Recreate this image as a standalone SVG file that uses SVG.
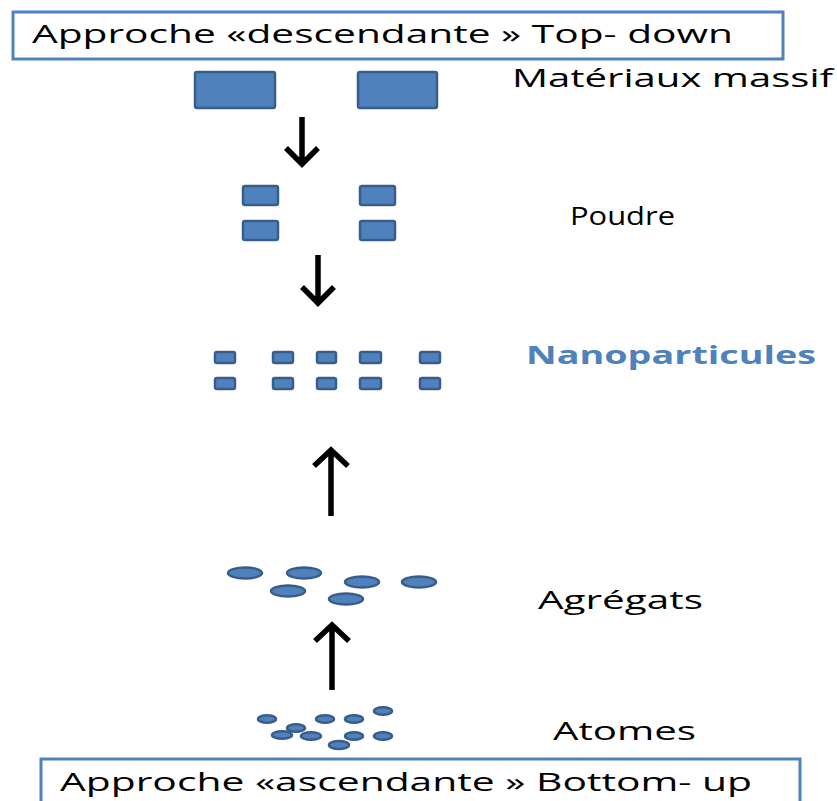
<svg xmlns="http://www.w3.org/2000/svg" width="837" height="801" viewBox="0 0 837 801">
<style>
.box{fill:#fff;stroke:#4f81bd;stroke-width:3}
.blk{fill:#4f81bd;stroke:#385d8a;stroke-width:2.5}
.t{font-family:"Open Sans","Liberation Sans",Arial,sans-serif;font-size:25px;fill:#000}
.bt{font-family:"Open Sans","Liberation Sans",Arial,sans-serif;font-size:25.5px;fill:#000}
.arr{fill:none;stroke:#000;stroke-width:5.5;stroke-linecap:butt;stroke-linejoin:miter}
</style>
<rect width="837" height="801" fill="#fff"/>
<g id="top-box">
<rect class="box" x="13" y="12" width="770" height="47"/>
<text class="bt" x="32" y="43" textLength="701" lengthAdjust="spacingAndGlyphs">Approche «descendante » Top- down</text>
</g>
<g id="materiaux">
<rect class="blk" x="195" y="72" width="80" height="36" rx="2"/>
<rect class="blk" x="358" y="72" width="79" height="36" rx="2"/>
<text class="t" x="512" y="87" textLength="321" lengthAdjust="spacingAndGlyphs">Matériaux massif</text>
</g>
<g id="poudre">
<rect class="blk" x="243" y="186" width="35" height="19" rx="2"/>
<rect class="blk" x="243" y="221" width="35" height="19" rx="2"/>
<rect class="blk" x="360" y="186" width="35" height="19" rx="2"/>
<rect class="blk" x="360" y="221" width="35" height="19" rx="2"/>
<text class="t" x="570" y="225" textLength="105" lengthAdjust="spacingAndGlyphs">Poudre</text>
</g>
<g id="nanoparticules">
<rect class="blk" x="215" y="352" width="20" height="11" rx="2"/>
<rect class="blk" x="273" y="352" width="20" height="11" rx="2"/>
<rect class="blk" x="317" y="352" width="19" height="11" rx="2"/>
<rect class="blk" x="360" y="352" width="21" height="11" rx="2"/>
<rect class="blk" x="420" y="352" width="20" height="11" rx="2"/>
<rect class="blk" x="215" y="378" width="20" height="11" rx="2"/>
<rect class="blk" x="273" y="378" width="20" height="11" rx="2"/>
<rect class="blk" x="317" y="378" width="19" height="11" rx="2"/>
<rect class="blk" x="360" y="378" width="21" height="11" rx="2"/>
<rect class="blk" x="420" y="378" width="20" height="11" rx="2"/>
<text class="t" x="526" y="364" textLength="290" lengthAdjust="spacingAndGlyphs" style="fill:#4f81bd;font-weight:bold">Nanoparticules</text>
</g>
<g id="agregats">
<ellipse class="blk" cx="245" cy="573" rx="17" ry="5.5"/>
<ellipse class="blk" cx="304" cy="573" rx="17" ry="5.5"/>
<ellipse class="blk" cx="288" cy="591" rx="17" ry="5.5"/>
<ellipse class="blk" cx="362" cy="582" rx="17" ry="5.5"/>
<ellipse class="blk" cx="346" cy="599" rx="17" ry="5.5"/>
<ellipse class="blk" cx="419" cy="582" rx="17" ry="5.5"/>
<text class="t" x="538" y="609" textLength="165" lengthAdjust="spacingAndGlyphs">Agrégats</text>
</g>
<g id="atomes">
<ellipse class="blk" cx="267" cy="719" rx="9" ry="3.8"/>
<ellipse class="blk" cx="296" cy="728" rx="9" ry="3.8"/>
<ellipse class="blk" cx="282" cy="735" rx="10" ry="3.8"/>
<ellipse class="blk" cx="311" cy="736" rx="10" ry="3.8"/>
<ellipse class="blk" cx="325" cy="719" rx="9" ry="3.8"/>
<ellipse class="blk" cx="354" cy="719" rx="9" ry="3.8"/>
<ellipse class="blk" cx="383" cy="711" rx="9" ry="3.8"/>
<ellipse class="blk" cx="354" cy="736" rx="9" ry="3.8"/>
<ellipse class="blk" cx="383" cy="736" rx="9" ry="3.8"/>
<ellipse class="blk" cx="339" cy="745" rx="10" ry="4"/>
<text class="t" x="553" y="740" textLength="143" lengthAdjust="spacingAndGlyphs">Atomes</text>
</g>
<g id="bottom-box">
<rect class="box" x="41" y="759" width="759" height="60"/>
<text class="bt" x="60" y="791" textLength="692" lengthAdjust="spacingAndGlyphs">Approche «ascendante » Bottom- up</text>
</g>
<g id="connectors">
<path class="arr" d="M302 117V163M286 148L302 164L318 148"/>
<path class="arr" d="M318 255V302M302 287L318 303L334 287"/>
<path class="arr" d="M331 516V451M314 466L331 450L348 466"/>
<path class="arr" d="M332 690V626M315 641L332 625L349 641"/>
</g>
</svg>
